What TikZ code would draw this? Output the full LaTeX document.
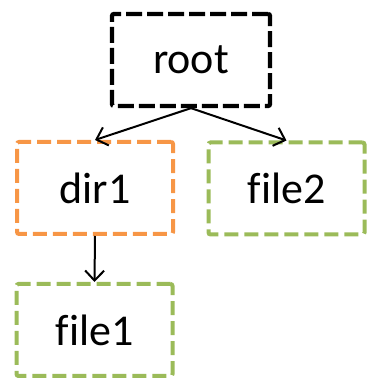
\documentclass[tikz,border=0pt]{standalone}
\usepackage{fontspec}
\setmainfont{Carlito}[Ligatures=NoCommon]
\usetikzlibrary{arrows.meta}
\definecolor{dirorange}{HTML}{F79646}
\definecolor{filegreen}{HTML}{9BBB59}
\tikzset{
  fsbox/.style={rectangle, rounded corners=2pt, dash pattern=on 14pt off 6pt,
    inner sep=0pt, font=\fontsize{44}{52}\selectfont},
  rootbox/.style={fsbox, draw=black, line width=4.3pt, dash pattern=on 16pt off 5pt,
    minimum width=158pt, minimum height=92pt},
  dirbox/.style={fsbox, draw=dirorange, line width=4pt,
    minimum width=156pt, minimum height=92pt},
  filebox/.style={fsbox, draw=filegreen, line width=4pt,
    minimum width=156pt, minimum height=92pt},
  link/.style={draw=black, line width=2pt,
    -{Straight Barb[length=10pt,width=19pt,line width=2pt]}}
}
\begin{document}
\begin{tikzpicture}[x=1pt,y=1pt]
  \useasboundingbox (0,0) rectangle (368,383);
  \node[rootbox] (root) at (191,323) {root};
  \node[dirbox] (dir1) at (95,195) {dir1};
  \node[filebox] (file2) at (286.5,194.5) {file2};
  \node[filebox] (file1) at (94.5,53) {file1};
  \draw[link] (root.south) -- (dir1.north);
  \draw[link] (root.south) -- (file2.north);
  \draw[link] (dir1.south) -- (file1.north);
\end{tikzpicture}
\end{document}
